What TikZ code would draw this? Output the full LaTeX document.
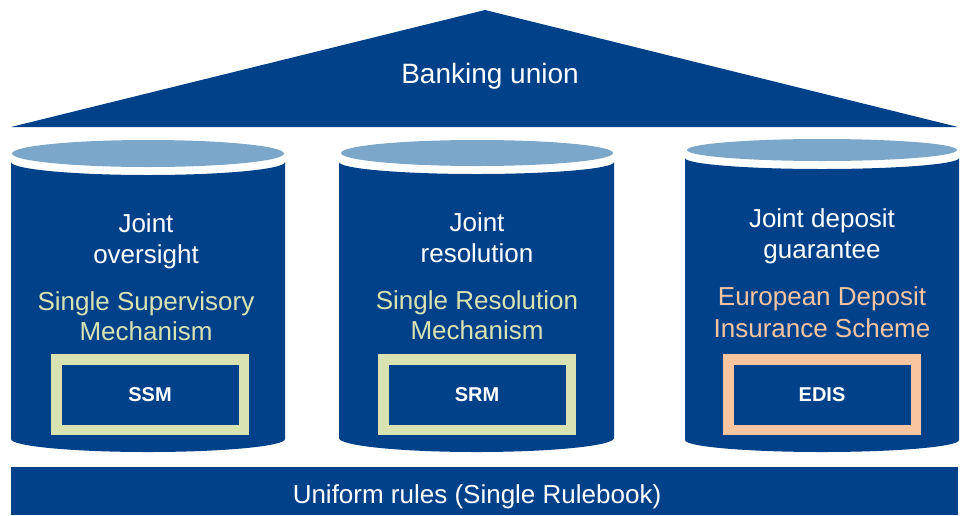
\documentclass[tikz,border=0pt]{standalone}
\usepackage{fontspec}
\setmainfont{Liberation Sans}
\definecolor{ecbblue}{HTML}{00418A}
\definecolor{toplight}{HTML}{7BA7CB}
\definecolor{ssmgreen}{HTML}{D9E3B1}
\definecolor{edisorange}{HTML}{F8C5A0}
\newcommand\mydrawcyl[6]{%
  \pgfmathsetmacro\cxm{(#1+#2)/2}%
  \pgfmathsetmacro\ckx{0.5523*(#2-#1)/2}%
  \pgfmathsetmacro\ckyt{0.5523*#4}%
  \pgfmathsetmacro\ckyb{0.5523*#6}%
  \fill[ecbblue] (#1,#3) -- (#1,#5)
    .. controls (#1,#5+\ckyb) and (\cxm-\ckx,#5+#6) .. (\cxm,#5+#6)
    .. controls (\cxm+\ckx,#5+#6) and (#2,#5+\ckyb) .. (#2,#5)
    -- (#2,#3)
    .. controls (#2,#3+\ckyt) and (\cxm+\ckx,#3+#4) .. (\cxm,#3+#4)
    .. controls (\cxm-\ckx,#3+#4) and (#1,#3+\ckyt) .. (#1,#3) -- cycle;}
\tikzset{
  bigtxt/.style={text=white, inner sep=0pt, anchor=base, font=\fontsize{26}{31}\selectfont},
  greentxt/.style={bigtxt, text=ssmgreen},
  orangetxt/.style={bigtxt, text=edisorange},
  pillarbox/.style={line width=10.5pt, minimum width=187.5pt, minimum height=70.5pt,
    inner sep=0pt, text=white, font=\fontsize{20}{24}\selectfont\bfseries},
}
\begin{document}
\begin{tikzpicture}[x=1pt,y=-1pt]
\useasboundingbox (0,0) rectangle (960,515);
% roof
\fill[ecbblue] (11,127) -- (485,10) -- (958,127) -- cycle;
\node[bigtxt, font=\fontsize{28}{34}\selectfont] (bu) at (490,83) {Banking union};
% pillars
\mydrawcyl{11}{285}{162}{13}{439}{13}
\fill[toplight] (148,153.5) ellipse[x radius=136, y radius=13.5];
\mydrawcyl{339}{614}{162}{12}{438}{14}
\fill[toplight] (477,153) ellipse[x radius=136, y radius=13];
\mydrawcyl{685}{959}{158}{11}{440}{12}
\fill[toplight] (822,150) ellipse[x radius=135, y radius=11];
% base
\fill[ecbblue] (11,467) rectangle (958,515);
\node[bigtxt] (ur) at (477,503) {Uniform rules (Single Rulebook)};
% pillar 1
\node[bigtxt] (p1a) at (146,232) {Joint};
\node[bigtxt] (p1b) at (146,263) {oversight};
\node[greentxt] (p1c) at (146,310) {Single Supervisory};
\node[greentxt] (p1d) at (146,340) {Mechanism};
\node[pillarbox, draw=ssmgreen] (ssm) at (150,394.5) {SSM};
% pillar 2
\node[bigtxt] (p2a) at (477,231) {Joint};
\node[bigtxt] (p2b) at (477,262) {resolution};
\node[greentxt] (p2c) at (477,309) {Single Resolution};
\node[greentxt] (p2d) at (477,339) {Mechanism};
\node[pillarbox, draw=ssmgreen] (srm) at (477,394.5) {SRM};
% pillar 3
\node[bigtxt] (p3a) at (822,227) {Joint deposit};
\node[bigtxt] (p3b) at (822,258) {guarantee};
\node[orangetxt] (p3c) at (822,305) {European Deposit};
\node[orangetxt] (p3d) at (822,337) {Insurance Scheme};
\node[pillarbox, draw=edisorange] (edis) at (822,394.5) {EDIS};
\end{tikzpicture}
\end{document}
